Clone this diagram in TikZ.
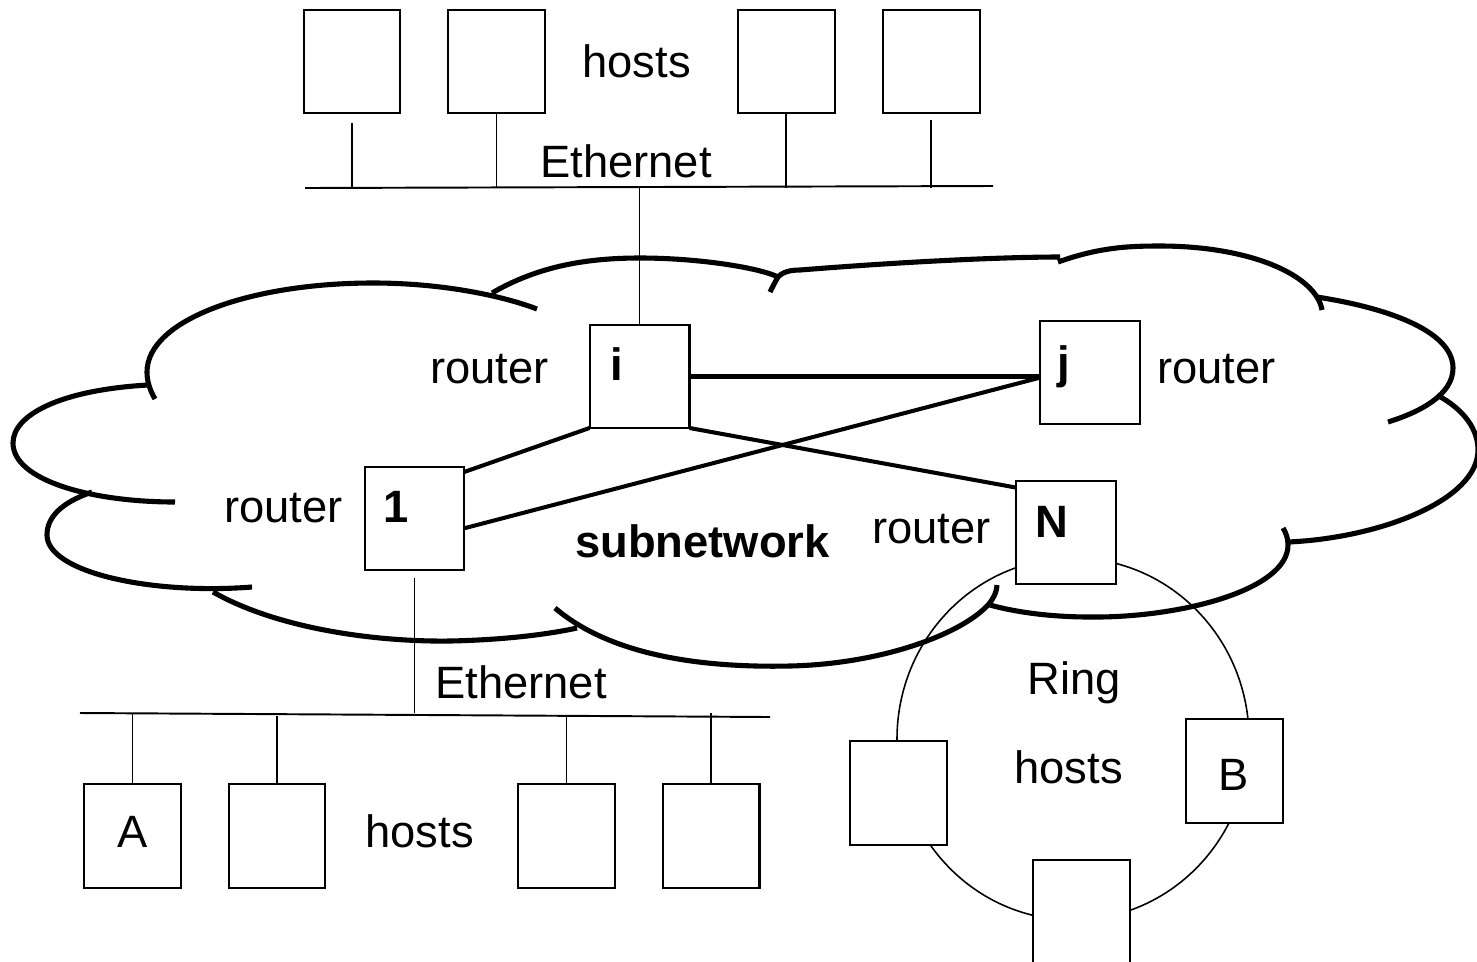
\documentclass[tikz,border=0pt]{standalone}
\usepackage{fontspec}
\setmainfont{Liberation Sans}
\begin{document}
\begin{tikzpicture}[x=0.02cm,y=-0.02cm,
  box/.style={draw,line width=1.14pt,fill=white,minimum width=2cm,minimum height=2.06cm,inner sep=0,outer sep=0},
  hostbox/.style={box,minimum width=1.94cm,minimum height=2.08cm},
  lbl/.style={anchor=base west,inner sep=0,font=\fontsize{25.8}{30}\selectfont},
  blbl/.style={anchor=base west,inner sep=0,font=\fontsize{25.8}{30}\selectfont\bfseries},
  cloudline/.style={line width=2.9pt,line cap=butt},
  link/.style={line width=2.3pt},
  wire/.style={line width=1.1pt},
  drop/.style={line width=0.9pt}]
\useasboundingbox (0,0) rectangle (1477,961);

% ring
\draw[drop] (1073,739) ellipse [x radius=176, y radius=181];

% cloud
\draw[cloudline]
  % K upper-left lobe
  (155,399) .. controls (150,390) and (147,382) .. (147,372)
            .. controls (147,320) and (250,283) .. (373,283)
            .. controls (440,283) and (500,295) .. (537,309)
  % A far-left lobe
  (148,385) .. controls (60,390) and (13,415) .. (13,443)
            .. controls (13,480) and (90,502) .. (175,502)
  % B lower-left lobe
  (92,492) .. controls (60,503) and (47,518) .. (47,535)
           .. controls (47,572) and (150,595) .. (252,587)
  % C bottom-left lobe
  (213,592) .. controls (280,630) and (380,642) .. (450,641)
            .. controls (500,640) and (545,635) .. (577,628)
  % D bottom-middle lobe
  (555,608) .. controls (610,655) and (700,668) .. (790,666)
            .. controls (880,664) and (960,635) .. (988,605)
            .. controls (994,598) and (997,591) .. (997,585)
  % E bottom-right lobe
  (1283,528) .. controls (1286,533) and (1288,538) .. (1288,545)
             .. controls (1288,590) and (1180,618) .. (1090,617)
             .. controls (1050,617) and (1015,612) .. (990,605)
  % F right lobe
  (1437,395) .. controls (1465,410) and (1478,430) .. (1478,450)
             .. controls (1478,500) and (1380,538) .. (1288,542)
  % G upper-right lobe
  (1317,297) .. controls (1400,310) and (1453,335) .. (1453,368)
             .. controls (1453,395) and (1420,412) .. (1388,422)
  % H top-right lobe
  (1058,262) .. controls (1100,247) and (1130,246) .. (1160,246)
             .. controls (1250,246) and (1316,275) .. (1322,310)
  % I top flat part
  (777,278) .. controls (782,272) and (790,270) .. (800,270)
            .. controls (900,262) and (1000,257) .. (1060,257)
  % J top-middle lobe
  (492,293) .. controls (540,265) and (590,258) .. (640,258)
            .. controls (700,258) and (760,268) .. (778,277)
            .. controls (775,282) and (772,288) .. (770,292);

% top ethernet
\coordinate (te1) at (305,188);
\coordinate (te2) at (993,186);
\draw[wire] (te1) -- (te2);
\node[hostbox] (th1) at (352,61.5) {};
\node[hostbox] (th2) at (496.5,61.5) {};
\node[hostbox] (th3) at (786,61.5) {};
\node[hostbox] (th4) at (931,61.5) {};
\draw[drop] ([yshift=-0.2cm]th1.south) -- (th1.south |- te1);
\draw[drop] (th2.south) -- (th2.south |- te1);
\draw[drop] (th3.south) -- (th3.south |- te1);
\draw[drop] ([yshift=-0.14cm]th4.south) -- (th4.south |- te1);
\node[lbl] (thosts) at (582,77) {hosts};
\node[lbl] (teth) at (540,177) {Ethernet};

% routers
\node[box] (i) at (639.5,376.5) {};
\node[box] (j) at (1089.5,372.5) {};
\node[box] (n1) at (414.5,518.5) {};
\node[box] (N) at (1065.5,532.5) {};
\draw[wire] (i.north) -- (i.north |- te1);
\draw[link] (i.east) -- (i.east -| j.west);
\draw[link] (j.-174) -- (n1.-11);
\draw[link] (i.south west) -- (n1.43);
\draw[link] (i.south east) -- (N.138);
\node[blbl] (ilbl) at (610,380) {i};
\node[blbl] (jlbl) at (1057,378) {j};
\node[blbl] (onelbl) at (383,522) {1};
\node[blbl] (Nlbl) at (1035,537) {N};
\node[lbl] (ri) at (430,383) {router};
\node[lbl] (rj) at (1157,383) {router};
\node[lbl] (r1) at (224,522) {router};
\node[lbl] (rN) at (872,543) {router};
\node[blbl] (sub) at (575,557) {subnetwork};

% bottom ethernet
\coordinate (be1) at (80,713);
\coordinate (be2) at (770,717);
\draw[wire] (be1) -- (be2);
\draw[wire] ([yshift=-0.16cm]n1.south) -- (n1.south |- be1);
\node[hostbox] (bA) at (132.5,836) {};
\node[hostbox] (b2) at (277,836) {};
\node[hostbox] (b3) at (566.5,836) {};
\node[hostbox] (b4) at (711,836) {};
\draw[drop] (bA.north |- be1) -- (bA.north);
\draw[drop] ([yshift=-0.06cm]b2.north |- be1) -- (b2.north);
\draw[drop] ([yshift=-0.06cm]b3.north |- be1) -- (b3.north);
\draw[drop] (b4.north |- be1) -- (b4.north);
\node[lbl,anchor=base] (Albl) at (133,847) {A};
\node[lbl] (bhosts) at (365,847) {hosts};
\node[lbl] (beth) at (435,698) {Ethernet};

% ring hosts
\node[hostbox] (rL) at (898,792.5) {};
\node[hostbox] (rB) at (1234.5,771) {};
\node[hostbox] (rD) at (1081.5,912) {};
\node[lbl,anchor=base] (Blbl) at (1234,790) {B};
\node[lbl] (ring) at (1027,694) {Ring};
\node[lbl] (rhosts) at (1014,783) {hosts};
\end{tikzpicture}
\end{document}
